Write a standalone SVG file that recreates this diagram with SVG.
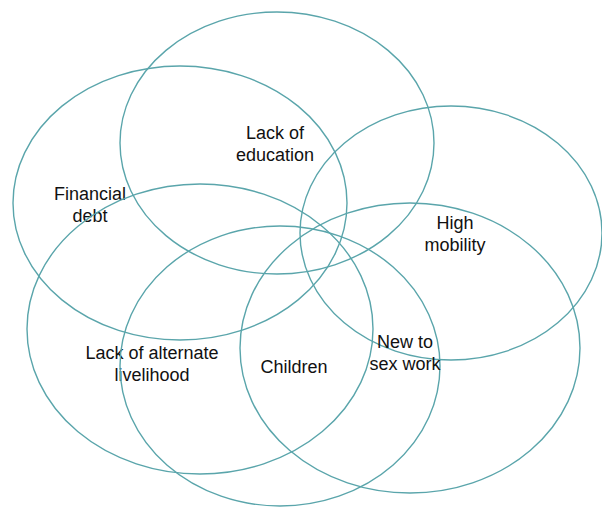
<svg xmlns="http://www.w3.org/2000/svg" width="602" height="508" viewBox="0 0 602 508">
<style>
.c{fill:none;stroke:#5aa5ab;stroke-width:1.4}
.t{font-family:"Liberation Sans",Arial,sans-serif;font-size:18px;fill:#111;text-anchor:middle}
</style>
<rect width="602" height="508" fill="#fff"/>
<g id="financial-debt"><ellipse class="c" cx="180" cy="203" rx="167" ry="137"/><text class="t" x="90" y="200">Financial</text><text class="t" x="90" y="222">debt</text></g>
<g id="lack-of-education"><ellipse class="c" cx="277" cy="143" rx="157" ry="131"/><text class="t" x="275" y="139">Lack of</text><text class="t" x="275" y="161">education</text></g>
<g id="high-mobility"><ellipse class="c" cx="451" cy="233" rx="151" ry="127"/><text class="t" x="455" y="229">High</text><text class="t" x="455" y="251">mobility</text></g>
<g id="lack-of-alternate-livelihood"><ellipse class="c" cx="200" cy="329" rx="173" ry="145"/><text class="t" x="152" y="359">Lack of alternate</text><text class="t" x="152" y="381">livelihood</text></g>
<g id="children"><ellipse class="c" cx="280" cy="366" rx="160" ry="140"/><text class="t" x="294" y="373">Children</text></g>
<g id="new-to-sex-work"><ellipse class="c" cx="410" cy="348" rx="170" ry="145"/><text class="t" x="405" y="348">New to</text><text class="t" x="405" y="370">sex work</text></g>
<g id="connectors"/>
</svg>
